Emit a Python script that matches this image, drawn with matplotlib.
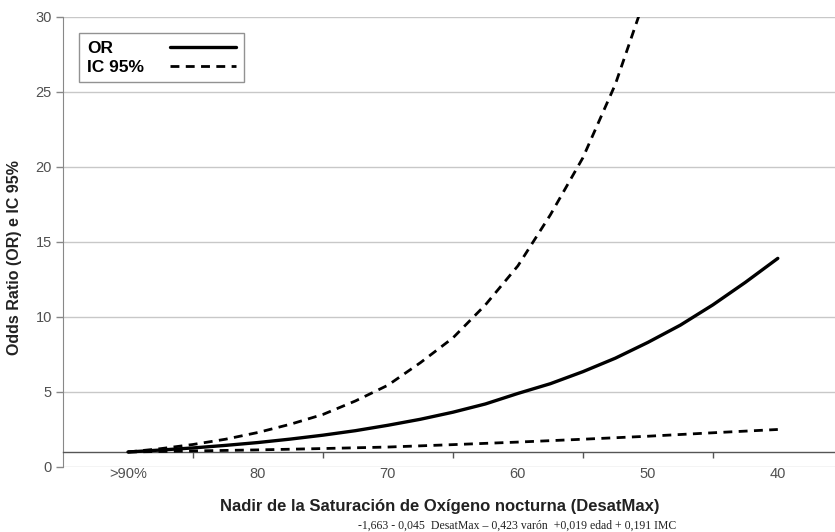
import matplotlib
matplotlib.use("Agg")
import matplotlib.pyplot as plt
from matplotlib.ticker import FixedLocator

# ---- data ----
or_x = [90, 87.5, 85, 82.5, 80, 77.5, 75, 72.5, 70, 67.5, 65, 62.5, 60, 57.5, 55, 52.5, 50, 47.5, 45, 42.5, 40]
or_y = [1.0, 1.13, 1.27, 1.44, 1.63, 1.86, 2.12, 2.42, 2.78, 3.18, 3.65, 4.2, 4.9, 5.55, 6.35, 7.25, 8.3, 9.45, 10.8, 12.3, 13.9]

up_x = [90, 87.5, 85, 82.5, 80, 77.5, 75, 72.5, 70, 67.5, 65, 62.5, 60, 57.5, 55, 52.5, 50]
up_y = [1.0, 1.22, 1.5, 1.85, 2.3, 2.85, 3.5, 4.4, 5.45, 6.95, 8.6, 10.8, 13.4, 16.8, 20.6, 25.5, 31.8]

lo_x = [90, 85, 80, 75, 70, 65, 60, 55, 50, 45, 40]
lo_y = [1.0, 1.07, 1.14, 1.23, 1.33, 1.49, 1.66, 1.85, 2.05, 2.28, 2.5]

label_pos = [90, 80, 70, 60, 50, 40]
label_txt = [">90%", "80", "70", "60", "50", "40"]
tick_marks = [85, 75, 65, 55, 45]
y_ticks = [0, 5, 10, 15, 20, 25, 30]

plt.rcParams['font.family'] = ['Liberation Sans', 'DejaVu Sans']

fig = plt.figure(figsize=(8.35, 5.32), dpi=100)
ax = fig.add_axes([63/835, 1-467/532, 1-63/835, (467-16.7)/532])

ax.plot(or_x, or_y, color='black', lw=2.4, solid_capstyle='round', label='OR', zorder=4)
ax.plot(up_x, up_y, color='black', lw=2.0, linestyle=(0, (3.2, 2.3)), label='IC 95%', zorder=4)
ax.plot(lo_x, lo_y, color='black', lw=2.0, linestyle=(0, (3.2, 2.3)), zorder=4)

ax.set_xlim(95, 35.6)
ax.set_ylim(0, 30)

# y axis
ax.set_yticks(y_ticks)
ax.yaxis.grid(True, color='#c8c8c8', lw=1.0)
ax.set_axisbelow(True)
ax.tick_params(axis='y', length=5, width=1, color='#888888', labelcolor='#505050', labelsize=10.5, pad=3)

# x axis: axis line at OR = 1, labels low
ax.spines['bottom'].set_position(('data', 1))
ax.spines['bottom'].set_color('#555555')
ax.spines['bottom'].set_linewidth(1.0)
ax.spines['left'].set_color('#888888')
ax.spines['top'].set_visible(False)
ax.spines['right'].set_visible(False)
ax.xaxis.set_major_locator(FixedLocator(label_pos))
ax.set_xticklabels(label_txt)
ax.xaxis.set_minor_locator(FixedLocator(tick_marks))
ax.tick_params(axis='x', which='major', length=0, pad=11.0, labelcolor='#505050', labelsize=10.5)
ax.tick_params(axis='x', which='minor', length=4, width=1, color='#555555', direction='out')

ax.set_ylabel('Odds Ratio (OR) e IC 95%', fontsize=11.5, fontweight='bold', color='#222222')
ax.yaxis.set_label_coords((22-63)/772, 0.465)

fig.text(440/835, 1-507/532, 'Nadir de la Saturación de Oxígeno nocturna (DesatMax)',
         ha='center', va='center', fontsize=12, fontweight='bold', color='#222222')
fig.text(517/835, 1-526/532, '-1,663 - 0,045  DesatMax – 0,423 varón  +0,019 edad + 0,191 IMC',
         ha='center', va='center', fontsize=8.5, family=['Liberation Serif', 'DejaVu Serif'], color='#222222')

leg = ax.legend(loc='upper left', bbox_to_anchor=((79-63)/772, 1-(33-16.7)/450.3),
                markerfirst=False, handlelength=3.8, handletextpad=1.5,
                prop={'weight': 'bold', 'size': 12.5}, frameon=True, fancybox=False,
                borderpad=0.45, labelspacing=0.2, borderaxespad=0)
leg.get_frame().set_edgecolor('#777777')
leg.get_frame().set_linewidth(1.0)

# left-align the legend labels while keeping the handles aligned on the right
try:
    fig.canvas.draw()
    renderer = fig.canvas.get_renderer()
    col = leg._legend_handle_box.get_children()[0]
    rows = col.get_children()
    wmax = max(r.get_bbox(renderer).width for r in rows)
    for r in rows:
        r.width = wmax
        r.mode = 'expand'
    col.align = 'left'
except Exception:
    pass

fig.savefig('out.png', dpi=100)
